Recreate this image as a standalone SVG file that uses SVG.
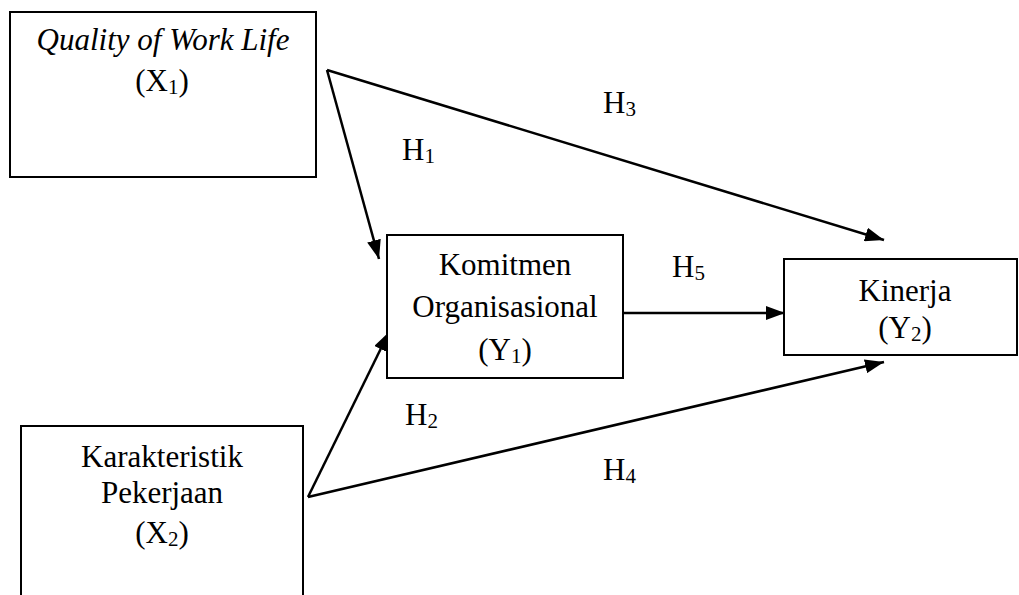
<svg xmlns="http://www.w3.org/2000/svg" width="1019" height="595" viewBox="0 0 1019 595">
<style>
.box{fill:#fff;stroke:#000;stroke-width:2}
.t{font-family:"Liberation Serif","Times New Roman",serif;font-size:31px;fill:#000}
.c{text-anchor:middle}
.sub{font-size:21px}
.con{stroke:#000;stroke-width:2.5;fill:none;marker-end:url(#ah)}
</style>
<defs>
<marker id="ah" viewBox="0 0 19 14" refX="19" refY="7" markerWidth="19" markerHeight="14" markerUnits="userSpaceOnUse" orient="auto">
<path d="M0,0 L19,7 L0,14 Z" fill="#000"/>
</marker>
</defs>
<g id="connectors">
<line class="con" x1="327" y1="70" x2="379" y2="259"/>
<line class="con" x1="327" y1="70" x2="884" y2="240"/>
<line class="con" x1="623" y1="313" x2="785" y2="313"/>
<line class="con" x1="308" y1="497" x2="389" y2="332"/>
<line class="con" x1="308" y1="497" x2="884" y2="362"/>
</g>
<g id="labels">
<text class="t" x="402" y="160">H<tspan class="sub" dy="3">1</tspan></text>
<text class="t" x="603" y="113">H<tspan class="sub" dy="3">3</tspan></text>
<text class="t" x="672" y="277">H<tspan class="sub" dy="3">5</tspan></text>
<text class="t" x="405" y="425">H<tspan class="sub" dy="3">2</tspan></text>
<text class="t" x="603" y="480">H<tspan class="sub" dy="3">4</tspan></text>
</g>
<g id="x1">
<rect class="box" x="10" y="12" width="306" height="165"/>
<text class="t c" x="163" y="50" font-style="italic">Quality of Work Life</text>
<text class="t c" x="162" y="91">(X<tspan class="sub" dy="3">1</tspan><tspan dy="-3">)</tspan></text>
</g>
<g id="y1">
<rect class="box" x="387" y="235" width="236" height="143"/>
<text class="t c" x="505" y="275">Komitmen</text>
<text class="t c" x="505" y="317">Organisasional</text>
<text class="t c" x="505" y="360">(Y<tspan class="sub" dy="3">1</tspan><tspan dy="-3">)</tspan></text>
</g>
<g id="y2">
<rect class="box" x="784" y="259" width="233" height="96"/>
<text class="t c" x="905" y="301">Kinerja</text>
<text class="t c" x="905" y="338">(Y<tspan class="sub" dy="3">2</tspan><tspan dy="-3">)</tspan></text>
</g>
<g id="x2">
<rect class="box" x="21" y="426" width="282" height="180"/>
<text class="t c" x="162" y="467">Karakteristik</text>
<text class="t c" x="162" y="503">Pekerjaan</text>
<text class="t c" x="162" y="543">(X<tspan class="sub" dy="3">2</tspan><tspan dy="-3">)</tspan></text>
</g>
</svg>
